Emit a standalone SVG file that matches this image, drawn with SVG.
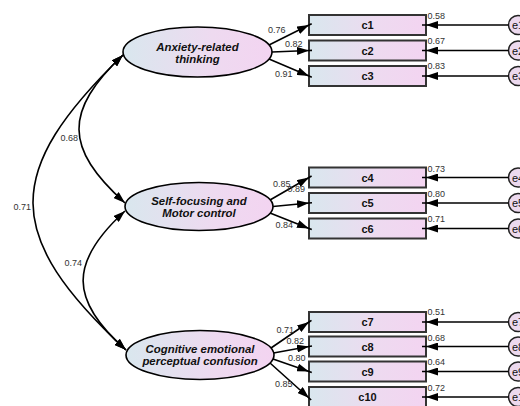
<svg xmlns="http://www.w3.org/2000/svg" width="520" height="406" viewBox="0 0 520 406">
<defs>
<linearGradient id="g" x1="0" y1="0" x2="1" y2="0">
<stop offset="0" stop-color="#d9e7ee"/>
<stop offset="0.6" stop-color="#eedaf0"/>
<stop offset="1" stop-color="#f3d4f1"/>
</linearGradient>
<marker id="ah" viewBox="0 0 12 8" refX="12" refY="4" markerWidth="12" markerHeight="8" markerUnits="userSpaceOnUse" orient="auto-start-reverse">
<path d="M0,0 L12,4 L0,8 z" fill="#000"/>
</marker>
<style>
.lat{fill:url(#g);stroke:#000;stroke-width:1.6}
.box{fill:url(#g);stroke:#333;stroke-width:2}
.err{fill:#ecd9ee;stroke:#222;stroke-width:1.5}
.nt{font-family:"Liberation Sans",Arial,sans-serif;font-weight:bold;font-style:italic;font-size:11.4px;fill:#111;text-anchor:middle}
.bt{font-family:"Liberation Sans",Arial,sans-serif;font-weight:bold;font-size:11px;fill:#111;text-anchor:middle}
.et{font-family:"Liberation Sans",Arial,sans-serif;font-size:11px;fill:#111}
.lb{font-family:"Liberation Sans",Arial,sans-serif;font-size:9px;fill:#333}
.lbe{font-family:"Liberation Sans",Arial,sans-serif;font-size:9px;fill:#333;text-anchor:end}
.ln{fill:none;stroke:#000;stroke-width:1.6;marker-mid:url(#ah)}
.cv{fill:none;stroke:#000;stroke-width:1.6;marker-start:url(#ah);marker-end:url(#ah)}
</style>
</defs>

<g id="F1">
<ellipse class="lat" cx="197.5" cy="52" rx="74.5" ry="25"/>
<text class="nt" x="197.5" y="50.5">Anxiety-related</text>
<text class="nt" x="197.5" y="63">thinking</text>
</g>
<g id="F2">
<ellipse class="lat" cx="199" cy="206.5" rx="74" ry="24"/>
<text class="nt" x="199" y="204.5">Self-focusing and</text>
<text class="nt" x="199" y="216.5">Motor control</text>
</g>
<g id="F3">
<ellipse class="lat" cx="200" cy="355" rx="74" ry="24.5"/>
<text class="nt" x="200" y="353">Cognitive emotional</text>
<text class="nt" x="200" y="365">perceptual confusion</text>
</g>

<g id="c1"><rect class="box" x="309" y="15" width="117" height="20"/><text class="bt" x="367.5" y="29">c1</text></g>
<g id="c2"><rect class="box" x="309" y="40.5" width="117" height="20"/><text class="bt" x="367.5" y="54.5">c2</text></g>
<g id="c3"><rect class="box" x="309" y="66" width="117" height="20"/><text class="bt" x="367.5" y="80">c3</text></g>
<g id="c4"><rect class="box" x="309" y="167.5" width="117" height="20"/><text class="bt" x="367.5" y="181.5">c4</text></g>
<g id="c5"><rect class="box" x="309" y="193" width="117" height="20"/><text class="bt" x="367.5" y="207">c5</text></g>
<g id="c6"><rect class="box" x="309" y="218.5" width="117" height="20"/><text class="bt" x="367.5" y="232.5">c6</text></g>
<g id="c7"><rect class="box" x="309" y="312" width="117" height="20"/><text class="bt" x="367.5" y="326">c7</text></g>
<g id="c8"><rect class="box" x="309" y="336.5" width="117" height="20"/><text class="bt" x="367.5" y="350.5">c8</text></g>
<g id="c9"><rect class="box" x="309" y="361.5" width="117" height="20"/><text class="bt" x="367.5" y="375.5">c9</text></g>
<g id="c10"><rect class="box" x="309" y="387" width="117" height="20"/><text class="bt" x="367.5" y="401">c10</text></g>

<g id="e1"><circle class="err" cx="518" cy="25" r="9.5"/><text class="et" x="512" y="29">e1</text></g>
<g id="e2"><circle class="err" cx="518" cy="50.5" r="9.5"/><text class="et" x="512" y="54.5">e2</text></g>
<g id="e3"><circle class="err" cx="518" cy="76" r="9.5"/><text class="et" x="512" y="80">e3</text></g>
<g id="e4"><circle class="err" cx="518" cy="177.5" r="9.5"/><text class="et" x="512" y="181.5">e4</text></g>
<g id="e5"><circle class="err" cx="518" cy="203" r="9.5"/><text class="et" x="512" y="207">e5</text></g>
<g id="e6"><circle class="err" cx="518" cy="228.5" r="9.5"/><text class="et" x="512" y="232.5">e6</text></g>
<g id="e7"><circle class="err" cx="518" cy="322" r="9.5"/><text class="et" x="512" y="326">e7</text></g>
<g id="e8"><circle class="err" cx="518" cy="346.5" r="9.5"/><text class="et" x="512" y="350.5">e8</text></g>
<g id="e9"><circle class="err" cx="518" cy="371.5" r="9.5"/><text class="et" x="512" y="375.5">e9</text></g>
<g id="e10"><circle class="err" cx="518" cy="397" r="9.5"/><text class="et" x="512" y="401">e10</text></g>

<g id="connectors">
<path class="ln" d="M269,45 L309,25 L311.7,23.7"/>
<path class="ln" d="M272,52 L309,50.5 L312,50.4"/>
<path class="ln" d="M269,59 L309,76 L311.8,77.2"/>
<path class="ln" d="M270,200 L309,177.5 L311.6,176"/>
<path class="ln" d="M273,206.5 L309,203 L312,202.7"/>
<path class="ln" d="M270,213 L309,228.5 L311.8,229.6"/>
<path class="ln" d="M271,348 L309,322 L311.5,320.3"/>
<path class="ln" d="M273.5,353 L309,346.5 L312,346"/>
<path class="ln" d="M273,359 L309,371.5 L311.8,372.5"/>
<path class="ln" d="M270,363 L309,398 L311.2,400"/>

<path class="ln" d="M508.5,25 L426,25 L422,25"/>
<path class="ln" d="M508.5,50.5 L426,50.5 L422,50.5"/>
<path class="ln" d="M508.5,76 L426,76 L422,76"/>
<path class="ln" d="M508.5,177.5 L426,177.5 L422,177.5"/>
<path class="ln" d="M508.5,203 L426,203 L422,203"/>
<path class="ln" d="M508.5,228.5 L426,228.5 L422,228.5"/>
<path class="ln" d="M508.5,322 L426,322 L422,322"/>
<path class="ln" d="M508.5,346.5 L426,346.5 L422,346.5"/>
<path class="ln" d="M508.5,371.5 L426,371.5 L422,371.5"/>
<path class="ln" d="M508.5,397 L426,397 L422,397"/>

<path class="cv" d="M123,55 C64,111 64,148 125,203"/>
<path class="cv" d="M125,211 C69,262 69,300 126,350"/>
<path class="cv" d="M123,55 C2.5,172 2.5,235 126,350"/>

<text class="lb" x="268" y="32.5">0.76</text>
<text class="lb" x="285" y="46.5">0.82</text>
<text class="lb" x="275" y="77">0.91</text>
<text class="lb" x="273" y="186.5">0.85</text>
<text class="lb" x="287.5" y="191.5">0.89</text>
<text class="lb" x="275.5" y="228">0.84</text>
<text class="lb" x="276.5" y="332.5">0.71</text>
<text class="lb" x="286.5" y="344">0.82</text>
<text class="lb" x="288" y="360.5">0.80</text>
<text class="lb" x="275" y="387">0.85</text>

<text class="lb" x="427.5" y="19">0.58</text>
<text class="lb" x="427.5" y="44">0.67</text>
<text class="lb" x="427.5" y="69">0.83</text>
<text class="lb" x="427.5" y="171.5">0.73</text>
<text class="lb" x="427.5" y="196.5">0.80</text>
<text class="lb" x="427.5" y="222">0.71</text>
<text class="lb" x="427.5" y="315">0.51</text>
<text class="lb" x="427.5" y="340.5">0.68</text>
<text class="lb" x="427.5" y="365">0.64</text>
<text class="lb" x="427.5" y="390.5">0.72</text>

<text class="lbe" x="78" y="141">0.68</text>
<text class="lbe" x="31" y="210">0.71</text>
<text class="lbe" x="82" y="266">0.74</text>
</g>
</svg>
